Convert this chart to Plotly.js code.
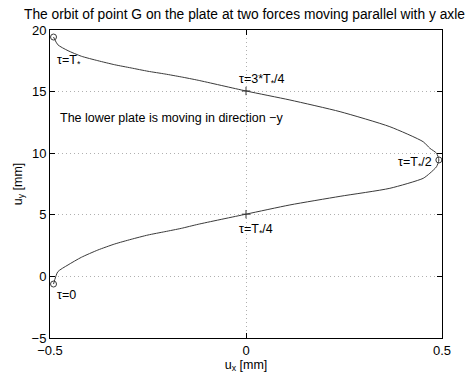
<!DOCTYPE html>
<html>
<head>
<meta charset="utf-8">
<script src="https://cdn.plot.ly/plotly-3.0.1.min.js"></script>
<style>
  html, body { margin: 0; padding: 0; background: #fff; }
  #chart { width: 472px; height: 376px; }
</style>
</head>
<body>
<div id="chart"></div>
<script>
// Orbit of point G over one period (u_x, u_y in mm)
const ux = [-0.491, -0.480, -0.454, -0.420, -0.378, -0.335, -0.293, -0.250, -0.207, -0.165, -0.122,
            0.000, 0.112, 0.240, 0.367, 0.452, 0.469, 0.486, 0.492,
            0.486, 0.469, 0.452, 0.367, 0.240, 0.112, 0.000,
            -0.122, -0.165, -0.207, -0.250, -0.293, -0.335, -0.378, -0.420, -0.454, -0.480, -0.491];
const uy = [-0.62, 0.38, 0.93, 1.55, 2.14, 2.63, 3.01, 3.36, 3.63, 3.90, 4.23,
            5.05, 5.80, 6.50, 7.15, 7.96, 8.37, 8.90, 9.45,
            10.00, 10.40, 10.93, 12.15, 13.37, 14.32, 15.05,
            15.92, 16.19, 16.43, 16.65, 16.92, 17.18, 17.51, 17.87, 18.32, 18.80, 19.43];

// Positions of G at the characteristic instants
const tauX = [-0.491, 0.000, 0.492, 0.000, -0.491];
const tauY = [-0.62, 5.05, 9.45, 15.05, 19.43];
const tauLabels = ['τ=0', 'τ=T<sub>*</sub>/4', 'τ=T<sub>*</sub>/2', 'τ=3*T<sub>*</sub>/4', 'τ=T<sub>*</sub>'];
const tauSymbols = ['circle-open', 'cross-thin-open', 'circle-open', 'cross-thin-open', 'circle-open'];

const xTicks = [-0.5, 0, 0.5];
const xTickText = ['−0.5', '0', '0.5'];
const yTicks = [-5, 0, 5, 10, 15, 20];
const yTickText = ['−5', '0', '5', '10', '15', '20'];

const titleText = 'The orbit of point G on the plate at two forces moving parallel with y axle';
const noteText = 'The lower plate is moving in direction −y';

const family = 'Liberation Sans, Arial, sans-serif';
const tickFont = { family: family, size: 13, color: '#000' };
const textFont = { family: family, size: 12.5, color: '#000' };
const titleFont = { family: family, size: 13.8, color: '#000' };

const traces = [
  {
    x: ux, y: uy, type: 'scatter', mode: 'lines',
    line: { color: '#3a3a3a', width: 1, shape: 'spline', smoothing: 0.6 },
    hoverinfo: 'skip'
  },
  {
    x: tauX, y: tauY, type: 'scatter', mode: 'markers',
    marker: { symbol: tauSymbols, size: 6, color: '#3a3a3a', line: { color: '#3a3a3a', width: 1 } },
    hoverinfo: 'skip'
  }
];

// label placement for each instant: [x, y, xanchor]
const labelPos = [
  [-0.488, -1.5, 'left'],
  [-0.022, 3.75, 'left'],
  [0.480, 9.2, 'right'],
  [-0.022, 15.95, 'left'],
  [-0.488, 17.5, 'left']
];

const annotations = tauLabels.map((t, i) => ({
  x: labelPos[i][0], y: labelPos[i][1], xref: 'x', yref: 'y',
  text: t, showarrow: false, xanchor: labelPos[i][2], yanchor: 'middle',
  font: textFont
}));
annotations.push({
  x: -0.480, y: 12.85, xref: 'x', yref: 'y', text: noteText, showarrow: false,
  xanchor: 'left', yanchor: 'middle', font: textFont
});

const axisCommon = {
  showline: true, linecolor: '#000', linewidth: 1, mirror: 'ticks',
  ticks: 'inside', ticklen: 5, tickcolor: '#000', tickwidth: 1,
  showgrid: true, gridcolor: '#b0b0b0', griddash: '1px,3px', gridwidth: 1,
  zeroline: false, tickfont: tickFont, tickmode: 'array'
};

const layout = {
  width: 472, height: 376,
  margin: { l: 50, r: 30, t: 30, b: 38 },
  paper_bgcolor: '#fff', plot_bgcolor: '#fff',
  showlegend: false,
  font: textFont,
  title: { text: titleText, font: titleFont, x: 0.518, xanchor: 'center', y: 0.962, yanchor: 'middle' },
  xaxis: Object.assign({}, axisCommon, {
    range: [-0.5, 0.5], tickvals: xTicks, ticktext: xTickText,
    title: { text: 'u<sub>x</sub> [mm]', font: textFont, standoff: 3 }
  }),
  yaxis: Object.assign({}, axisCommon, {
    range: [-5, 20], tickvals: yTicks, ticktext: yTickText,
    title: { text: 'u<sub>y</sub> [mm]', font: textFont, standoff: 6 }
  }),
  annotations: annotations
};

Plotly.newPlot('chart', traces, layout, { staticPlot: true, displayModeBar: false });
</script>
</body>
</html>
